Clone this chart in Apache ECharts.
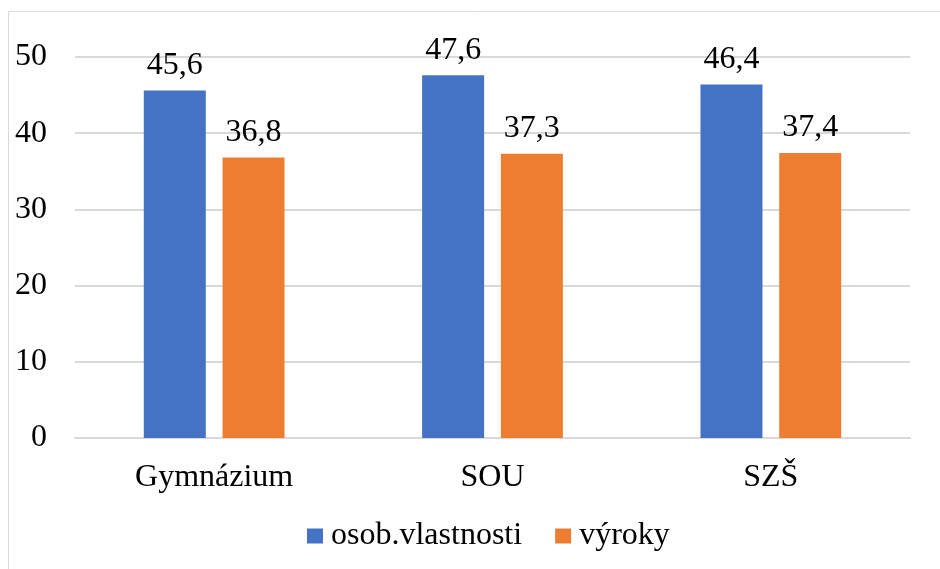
<!DOCTYPE html>
<html>
<head>
<meta charset="utf-8">
<script src="https://cdn.jsdelivr.net/npm/echarts@6/dist/echarts.min.js"></script>
<style>
  html, body { margin: 0; padding: 0; background: #fff; }
  #chart { width: 940px; height: 569px; }
</style>
</head>
<body>
<div id="chart"></div>
<script>
  // data
  var categories = ['Gymnázium', 'SOU', 'SZŠ']
  var seriesNames = ['osob.vlastnosti', 'výroky']
  var osobVlastnosti = [45.6, 47.6, 46.4]
  var vyroky = [36.8, 37.3, 37.4]

  var font = "'Times New Roman', 'Liberation Serif', serif"
  var fs = 32
  var labelFmt = function (p) { return String(p.value).replace('.', ',') }

  var myChart = echarts.init(document.getElementById('chart'))
  myChart.setOption({
    animation: false,
    textStyle: { fontFamily: font },
    graphic: [{
      type: 'rect',
      shape: { x: 8.5, y: 11.5, width: 960, height: 600 },
      style: { fill: 'none', stroke: '#d9d9d9', lineWidth: 1 },
      silent: true
    }],
    grid: { left: 75, right: 30, top: 57, bottom: 131 },
    legend: {
      bottom: 12,
      left: 302,
      itemWidth: 16,
      itemHeight: 15,
      itemGap: 33,
      icon: 'rect',
      textStyle: { fontFamily: font, fontSize: fs, color: '#000', padding: [0, 0, 0, 3] },
      data: seriesNames
    },
    xAxis: {
      type: 'category',
      data: categories,
      axisLine: { lineStyle: { color: '#d9d9d9', width: 2 } },
      axisTick: { show: false },
      axisLabel: { fontFamily: font, fontSize: fs, color: '#000', margin: 24 }
    },
    yAxis: {
      type: 'value',
      min: 0,
      max: 50,
      interval: 10,
      axisLine: { show: false },
      axisTick: { show: false },
      splitLine: { lineStyle: { color: '#d9d9d9', width: 2 } },
      axisLabel: { fontFamily: font, fontSize: fs, color: '#000', margin: 28 }
    },
    series: [{
      name: seriesNames[0],
      type: 'bar',
      barWidth: 62,
      barGap: '27%',
      data: osobVlastnosti,
      itemStyle: { color: '#4472c4' },
      label: { show: true, position: 'top', distance: 9, fontFamily: font, fontSize: fs, color: '#000', formatter: labelFmt }
    }, {
      name: seriesNames[1],
      type: 'bar',
      barWidth: 62,
      data: vyroky,
      itemStyle: { color: '#ed7d31' },
      label: { show: true, position: 'top', distance: 9, fontFamily: font, fontSize: fs, color: '#000', formatter: labelFmt }
    }]
  })
</script>
</body>
</html>
